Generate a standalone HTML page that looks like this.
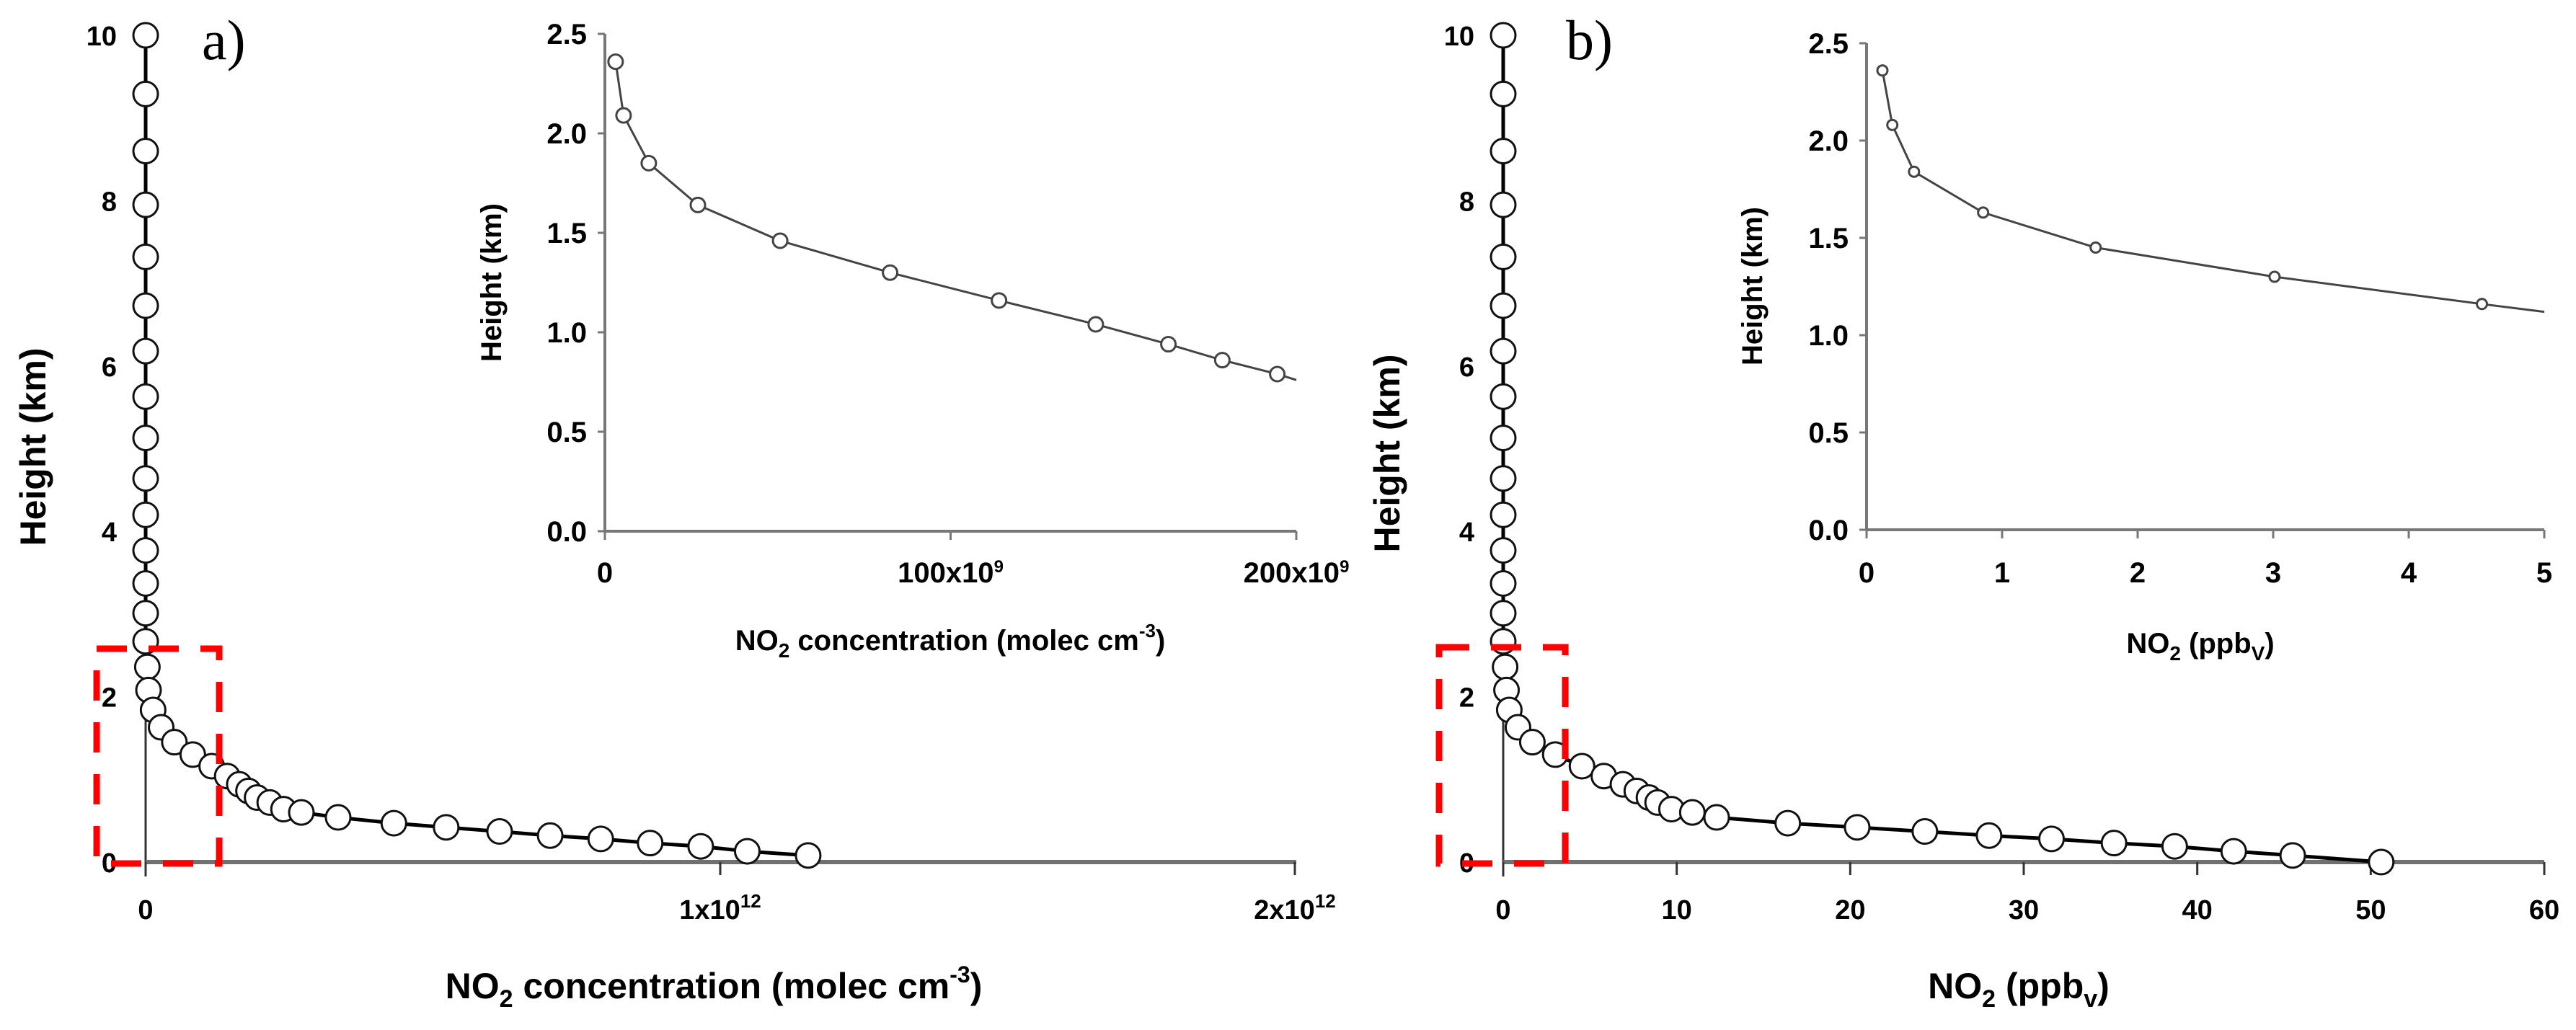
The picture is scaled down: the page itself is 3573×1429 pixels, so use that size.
<!DOCTYPE html>
<html><head><meta charset="utf-8"><style>
html,body{margin:0;padding:0;background:#fff;}
svg{display:block;font-family:"Liberation Sans",Arial,sans-serif;}
</style></head><body>
<svg id="fig" width="3573" height="1429" viewBox="0 0 3573 1429" xmlns="http://www.w3.org/2000/svg">
<g id="layer"></g>
</svg>
<script>
// ---- data ----
const heights = [10,9.29,8.60,7.95,7.32,6.73,6.18,5.63,5.13,4.64,4.20,3.77,3.37,3.01,2.67,2.36,2.08,1.84,1.63,1.45,1.30,1.16,1.04,0.94,0.86,0.78,0.72,0.64,0.60,0.54,0.47,0.42,0.37,0.32,0.28,0.23,0.19,0.13,0.08];
const concA = [0,0,0,0,0,0,0,0,0,0,0,0,0,0,0,0.003,0.005,0.013,0.027,0.050,0.082,0.115,0.142,0.163,0.179,0.194,0.216,0.240,0.271,0.335,0.432,0.523,0.616,0.704,0.792,0.878,0.966,1.047,1.153];
const heightsB = [10,9.29,8.60,7.95,7.32,6.73,6.18,5.63,5.13,4.64,4.20,3.77,3.37,3.01,2.67,2.36,2.08,1.84,1.63,1.45,1.30,1.16,1.04,0.94,0.86,0.78,0.72,0.64,0.60,0.54,0.47,0.42,0.37,0.32,0.28,0.23,0.19,0.13,0.08,0];
const ppbB = [0,0,0,0,0,0,0,0,0,0,0,0,0,0,0,0.11,0.19,0.35,0.85,1.68,3.0,4.54,5.8,6.9,7.7,8.4,8.9,9.7,10.9,12.3,16.4,20.4,24.3,28.0,31.6,35.2,38.7,42.1,45.5,50.6];
const insetAx = [3.1,5.4,12.7,26.9,50.7,82.5,114,142,163,178.6,194.5];
const insetAy = [2.36,2.09,1.85,1.64,1.46,1.30,1.16,1.04,0.94,0.86,0.79];
const insetAend = [200,0.76];
const insetBx = [0.117,0.19,0.35,0.86,1.69,3.01,4.54];
const insetBy = [2.36,2.08,1.84,1.63,1.45,1.30,1.16];
const insetBend = [5,1.12];
const mainYTicks = [0,2,4,6,8,10];
const mainAXTicks = [0,1,2];
const mainAXLabels = ["0","1x10<tspan dy='-16' font-size='26'>12</tspan>","2x10<tspan dy='-16' font-size='26'>12</tspan>"];
const mainBXTicks = [0,10,20,30,40,50,60];
const insetYTicks = [0,0.5,1.0,1.5,2.0,2.5];
const insetAXTicks = [0,100,200];
const insetAXLabels = ["0","100x10<tspan dy='-14' font-size='24'>9</tspan>","200x10<tspan dy='-14' font-size='24'>9</tspan>"];
const insetBXTicks = [0,1,2,3,4,5];

const NS="http://www.w3.org/2000/svg";
const layer=document.getElementById('layer');
function mk(tag,attrs,name,parent){const e=document.createElementNS(NS,tag);for(const k in attrs)e.setAttribute(k,attrs[k]);


(parent||layer).appendChild(e);return e;}
function txt(x,y,s,opts,name){const t=mk('text',Object.assign({x:x,y:y,'font-weight':'bold','fill':'#000'},opts||{}),name);t.innerHTML=s;return t;}
function lin(a,b,c,d){return (v)=>c+(v-a)*(d-c)/(b-a);}

// ---- main panel axes ----
const yA = lin(0,10,1196,49);
const xA = lin(0,1,202,999);
const xB = lin(0,60,2085,3529);

function mainPanel(xs, ys, xFn, x0px, x1px, xticks, xlabels, prefix){
  // y axis
  mk('line',{x1:x0px,y1:yA(0)+20,x2:x0px,y2:yA(10),stroke:'#333','stroke-width':3},prefix+'-y-axis');
  // x axis
  mk('line',{x1:x0px,y1:yA(0),x2:x1px,y2:yA(0),stroke:'#707070','stroke-width':6},prefix+'-x-axis');
  xticks.forEach((t,i)=>{
    const px=xFn(t);
    mk('line',{x1:px,y1:yA(0),x2:px,y2:yA(0)+18,stroke:'#333','stroke-width':3},prefix+'-x-tick');
    txt(px,1275,xlabels[i],{'text-anchor':'middle','font-size':38},prefix+'-x-tick-label');
  });
  mainYTicks.forEach(t=>{
    txt(x0px-40,yA(t)+14,String(t),{'text-anchor':'end','font-size':38},prefix+'-y-tick-label');
  });
  // series line
  const pts=xs.map((v,i)=>xFn(v)+','+yA(ys[i])).join(' ');
  mk('polyline',{points:pts,fill:'none',stroke:'#000','stroke-width':5},prefix+'-profile-line');
  xs.forEach((v,i)=>{
    mk('circle',{cx:xFn(v),cy:yA(ys[i]),r:17,fill:'#fff',stroke:'#111','stroke-width':3},prefix+'-profile-point');
  });
}
mainPanel(concA,heights,xA,202,1798,mainAXTicks,mainAXLabels,'panel-a');
mainPanel(ppbB,heightsB,xB,2085,3529,mainBXTicks,mainBXTicks.map(String),'panel-b');

// red dashed boxes
mk('rect',{x:134,y:900,width:170,height:298,fill:'none',stroke:'#ff0000','stroke-width':9,'stroke-dasharray':'42 30'},'panel-a-zoom-box');
mk('rect',{x:1996,y:898,width:175,height:300,fill:'none',stroke:'#ff0000','stroke-width':9,'stroke-dasharray':'42 30'},'panel-b-zoom-box');

// axis titles main
const ta=txt(46,620,'Height (km)',{'text-anchor':'middle','font-size':50,transform:'rotate(-90 46 620) translate(0 17)'},'panel-a-y-axis-title');
const tb=txt(1924,629,'Height (km)',{'text-anchor':'middle','font-size':50,transform:'rotate(-90 1924 629) translate(0 17)'},'panel-b-y-axis-title');
txt(990,1385,"NO<tspan dy='12' font-size='34'>2</tspan><tspan dy='-12'> concentration (molec cm</tspan><tspan dy='-22' font-size='32'>-3</tspan><tspan dy='22'>)</tspan>",{'text-anchor':'middle','font-size':50},'panel-a-x-axis-title');
txt(2800,1385,"NO<tspan dy='12' font-size='34'>2</tspan><tspan dy='-12'> (ppb</tspan><tspan dy='12' font-size='34'>v</tspan><tspan dy='-12'>)</tspan>",{'text-anchor':'middle','font-size':50},'panel-b-x-axis-title');
txt(280,82,'a)',{'font-size':78,'font-weight':'normal','font-family':'"Liberation Serif",serif'},'panel-a-label');
txt(2172,82,'b)',{'font-size':78,'font-weight':'normal','font-family':'"Liberation Serif",serif'},'panel-b-label');

// ---- insets ----
function inset(x0,x1,yTop,yBot,xmax,xticks,xlabels,xs,ys,end,r,prefix){
  const xF=lin(0,xmax,x0,x1), yF=lin(0,2.5,yBot,yTop);
  mk('line',{x1:x0,y1:yTop,x2:x0,y2:yBot,stroke:'#777','stroke-width':4},prefix+'-y-axis');
  mk('line',{x1:x0,y1:yBot,x2:x1,y2:yBot,stroke:'#777','stroke-width':4},prefix+'-x-axis');
  insetYTicks.forEach(t=>{
    mk('line',{x1:x0-10,y1:yF(t),x2:x0,y2:yF(t),stroke:'#777','stroke-width':3},prefix+'-y-tick');
    txt(x0-25,yF(t)+14,t.toFixed(1),{'text-anchor':'end','font-size':40},prefix+'-y-tick-label');
  });
  xticks.forEach((t,i)=>{
    mk('line',{x1:xF(t),y1:yBot,x2:xF(t),y2:yBot+12,stroke:'#777','stroke-width':3},prefix+'-x-tick');
    txt(xF(t),808,xlabels[i],{'text-anchor':'middle','font-size':40},prefix+'-x-tick-label');
  });
  const pts=xs.map((v,i)=>xF(v)+','+yF(ys[i])).concat([xF(end[0])+','+yF(end[1])]).join(' ');
  mk('polyline',{points:pts,fill:'none',stroke:'#444','stroke-width':3},prefix+'-line');
  xs.forEach((v,i)=>{
    mk('circle',{cx:xF(v),cy:yF(ys[i]),r:r,fill:'#fff',stroke:'#444','stroke-width':3},prefix+'-point');
  });
}
inset(839,1798,47,737,200,insetAXTicks,insetAXLabels,insetAx,insetAy,insetAend,10,'inset-a');
inset(2589,3529,60,735,5,insetBXTicks,insetBXTicks.map(String),insetBx,insetBy,insetBend,7,'inset-b');
txt(681,392,'Height (km)',{'text-anchor':'middle','font-size':40,transform:'rotate(-90 681 392) translate(0 14)'},'inset-a-y-axis-title');
txt(2430,397,'Height (km)',{'text-anchor':'middle','font-size':40,transform:'rotate(-90 2430 397) translate(0 14)'},'inset-b-y-axis-title');
txt(1318,902,"NO<tspan dy='10' font-size='28'>2</tspan><tspan dy='-10'> concentration (molec cm</tspan><tspan dy='-18' font-size='26'>-3</tspan><tspan dy='18'>)</tspan>",{'text-anchor':'middle','font-size':40},'inset-a-x-axis-title');
txt(3052,906,"NO<tspan dy='10' font-size='28'>2</tspan><tspan dy='-10'> (ppb</tspan><tspan dy='10' font-size='28'>V</tspan><tspan dy='-10'>)</tspan>",{'text-anchor':'middle','font-size':40},'inset-b-x-axis-title');
</script>
</body></html>
